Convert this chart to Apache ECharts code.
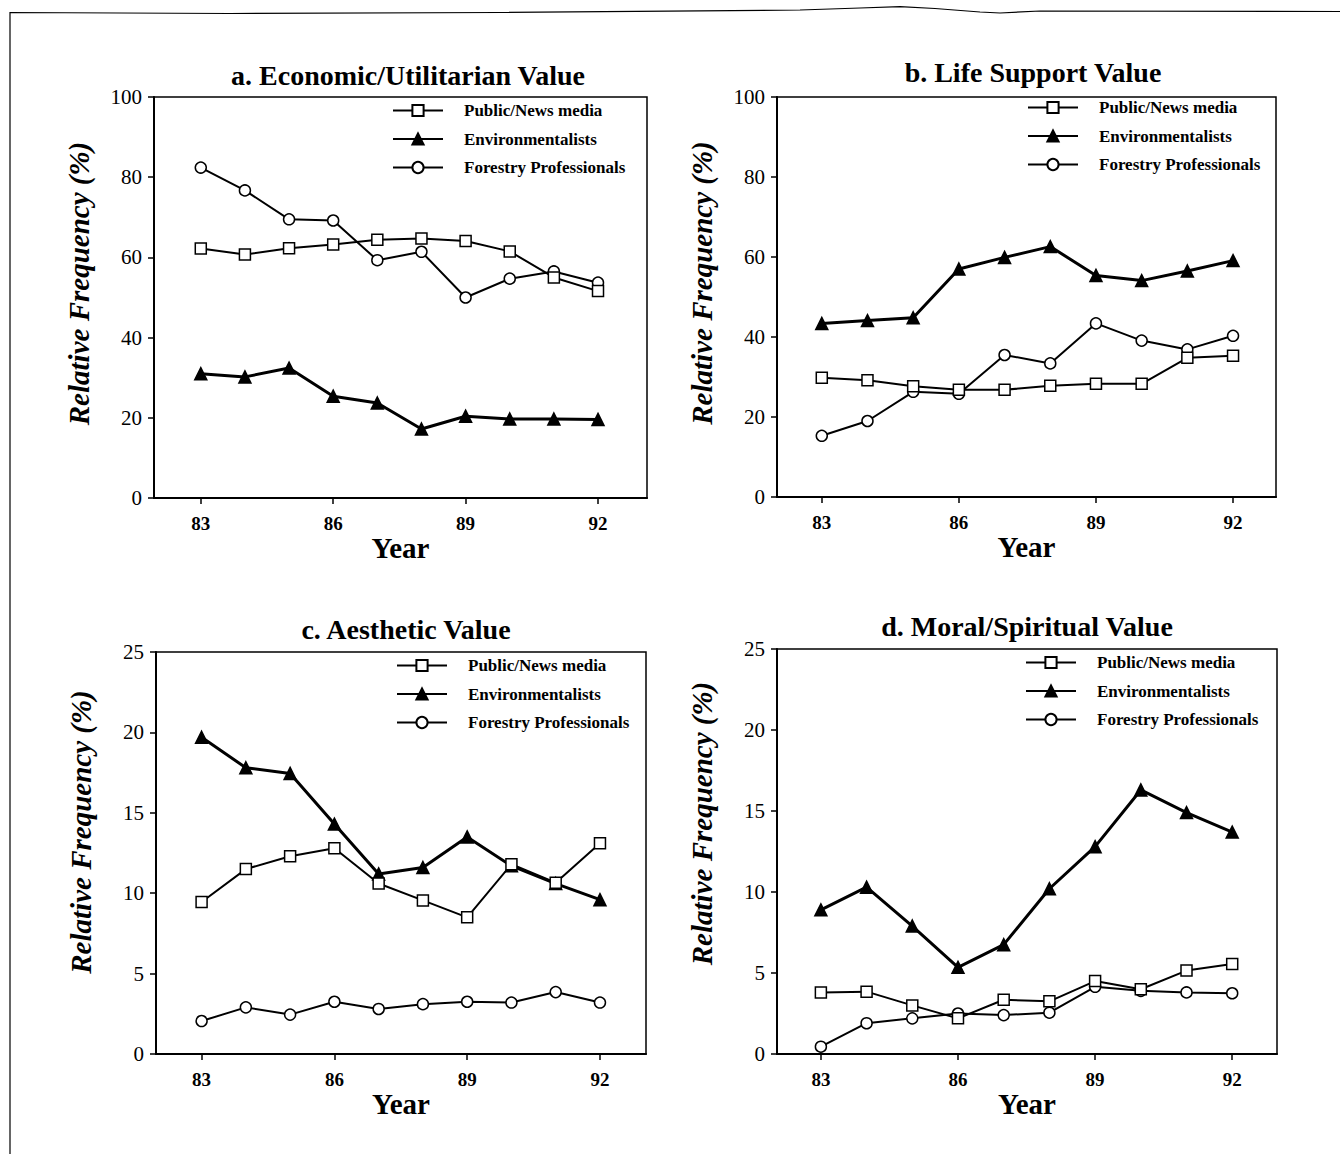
<!DOCTYPE html>
<html>
<head>
<meta charset="utf-8">
<script src="https://cdn.jsdelivr.net/npm/echarts@6/dist/echarts.min.js"></script>
<style>
html,body{margin:0;padding:0;background:#fff;}
#chart{width:1340px;height:1154px;}
</style>
</head>
<body>
<div id="chart"></div>
<script>
// ---- data ----
var years = [83, 84, 85, 86, 87, 88, 89, 90, 91, 92];
var xTickValues = [83, 86, 89, 92];
var seriesNames = ['Public/News media', 'Environmentalists', 'Forestry Professionals'];
var panelTitles = ['a. Economic/Utilitarian Value', 'b. Life Support Value', 'c. Aesthetic Value', 'd. Moral/Spiritual Value'];

var econPublic = [62.2, 60.7, 62.3, 63.2, 64.4, 64.7, 64.1, 61.5, 55.0, 51.6];
var econEnv    = [31.0, 30.2, 32.4, 25.4, 23.7, 17.2, 20.4, 19.7, 19.7, 19.6];
var econForest = [82.4, 76.7, 69.5, 69.2, 59.3, 61.4, 50.0, 54.7, 56.5, 53.7];

var lifePublic = [29.8, 29.2, 27.7, 26.8, 26.8, 27.8, 28.3, 28.3, 34.8, 35.3];
var lifeEnv    = [43.4, 44.1, 44.8, 57.0, 59.9, 62.6, 55.4, 54.1, 56.5, 59.1];
var lifeForest = [15.3, 19.0, 26.3, 25.8, 35.5, 33.4, 43.4, 39.1, 36.9, 40.3];

var aesPublic = [9.45, 11.5, 12.3, 12.8, 10.6, 9.55, 8.5, 11.8, 10.65, 13.1];
var aesEnv    = [19.7, 17.8, 17.45, 14.3, 11.2, 11.6, 13.5, 11.7, 10.6, 9.6];
var aesForest = [2.05, 2.9, 2.45, 3.25, 2.8, 3.1, 3.25, 3.2, 3.85, 3.2];

var moralPublic = [3.8, 3.85, 3.0, 2.2, 3.35, 3.25, 4.5, 4.0, 5.15, 5.55];
var moralEnv    = [8.9, 10.3, 7.9, 5.35, 6.75, 10.2, 12.8, 16.3, 14.9, 13.7];
var moralForest = [0.45, 1.9, 2.2, 2.5, 2.4, 2.55, 4.15, 3.9, 3.8, 3.75];

var yTicksAB = [0, 20, 40, 60, 80, 100];
var yTicksCD = [0, 5, 10, 15, 20, 25];

var panelData = [
  [econPublic, econEnv, econForest],
  [lifePublic, lifeEnv, lifeForest],
  [aesPublic, aesEnv, aesForest],
  [moralPublic, moralEnv, moralForest]
];

// ---- layout ----
var FONT = "'Liberation Serif', 'Times New Roman', serif";
var layout = [
  {grid:{left:154, top:97, width:493, height:401}, xr:[81.94, 93.11], yt:yTicksAB, tx:408, ty:75, lg:{left:392, top:102}, nameShift:28},
  {grid:{left:777, top:97, width:499, height:400}, xr:[82.02, 92.94], yt:yTicksAB, tx:1033, ty:72, lg:{left:1027, top:99}, nameShift:28},
  {grid:{left:156, top:652, width:490, height:402}, xr:[81.97, 93.04], yt:yTicksCD, tx:406, ty:629, lg:{left:396, top:657}, nameShift:42},
  {grid:{left:777, top:649, width:500, height:405}, xr:[82.04, 92.98], yt:yTicksCD, tx:1027, ty:626, lg:{left:1025, top:654}, nameShift:56}
];

var symbols = ['rect', 'triangle', 'circle'];
var symbolSizes = [11, 12, 11];
var lineWidths = [2, 3, 2];
var fills = ['#fff', '#000', '#fff'];

var grids = [], xAxes = [], yAxes = [], series = [], legends = [], graphics = [];

layout.forEach(function (L, p) {
  grids.push(Object.assign({show:true, borderColor:'#000', borderWidth:1.5, backgroundColor:'transparent'}, L.grid));
  xAxes.push({
    type:'value', gridIndex:p, min:L.xr[0], max:L.xr[1],
    name:'Year', nameLocation:'middle', nameGap:33,
    nameTextStyle:{fontFamily:FONT, fontSize:29, fontWeight:'bold', color:'#000'},
    axisLine:{show:true, onZero:false, lineStyle:{color:'#000', width:2}},
    axisTick:{show:true, length:6, lineStyle:{color:'#000', width:1.5}, customValues:xTickValues},
    axisLabel:{show:true, fontFamily:FONT, fontSize:19, fontWeight:'bold', color:'#000', margin:16, customValues:xTickValues},
    splitLine:{show:false}
  });
  yAxes.push({
    type:'value', gridIndex:p, min:L.yt[0], max:L.yt[L.yt.length-1], interval:L.yt[1]-L.yt[0],
    name:'Relative Frequency (%)', nameLocation:'middle', nameGap:61,
    nameTextStyle:{fontFamily:FONT, fontSize:29, fontWeight:'bold', fontStyle:'italic', color:'#000', padding:[0,0,0,L.nameShift]},
    axisLine:{show:true, lineStyle:{color:'#000', width:2}},
    axisTick:{show:true, length:6, lineStyle:{color:'#000', width:1.5}},
    axisLabel:{fontFamily:FONT, fontSize:21, color:'#000', margin:12},
    splitLine:{show:false}
  });
  panelData[p].forEach(function (vals, s) {
    series.push({
      type:'line', name:seriesNames[s], xAxisIndex:p, yAxisIndex:p,
      data: years.map(function (yr, i) { return [yr, vals[i]]; }),
      symbol:symbols[s], symbolSize:symbolSizes[s], showAllSymbol:true,
      lineStyle:{color:'#000', width:lineWidths[s]},
      itemStyle:{color:fills[s], borderColor:'#000', borderWidth:1.5},
      emphasis:{disabled:true}, animation:false, z: 3 - s
    });
  });
  legends.push({
    orient:'vertical', left:L.lg.left, top:L.lg.top, padding:0,
    itemWidth:50, itemHeight:14, itemGap:11.5, selectedMode:false,
    data:seriesNames,
    textStyle:{fontFamily:FONT, fontSize:17, fontWeight:'bold', color:'#000', lineHeight:14, padding:[0,0,0,16]}
  });
  graphics.push({
    type:'text', x:L.tx, y:L.ty,
    style:{text:panelTitles[p], fontFamily:FONT, fontSize:28, fontWeight:'bold', fill:'#000', textAlign:'center', textVerticalAlign:'middle'}
  });
});

// page frame (scanned border)
graphics.push({
  type:'polyline',
  shape:{points:[[10,1154],[10,12.5],[230,13.5],[500,12.5],[800,10],[860,8],[900,6.7],[935,8.5],[980,12],[1000,13],[1040,11],[1340,11.5]]},
  style:{stroke:'#000', lineWidth:1.2, fill:null}
});

var chart = echarts.init(document.getElementById('chart'), null, {renderer:'svg'});
chart.setOption({
  animation:false,
  backgroundColor:'#fff',
  grid:grids, xAxis:xAxes, yAxis:yAxes, series:series, legend:legends,
  graphic:graphics
});
</script>
</body>
</html>
